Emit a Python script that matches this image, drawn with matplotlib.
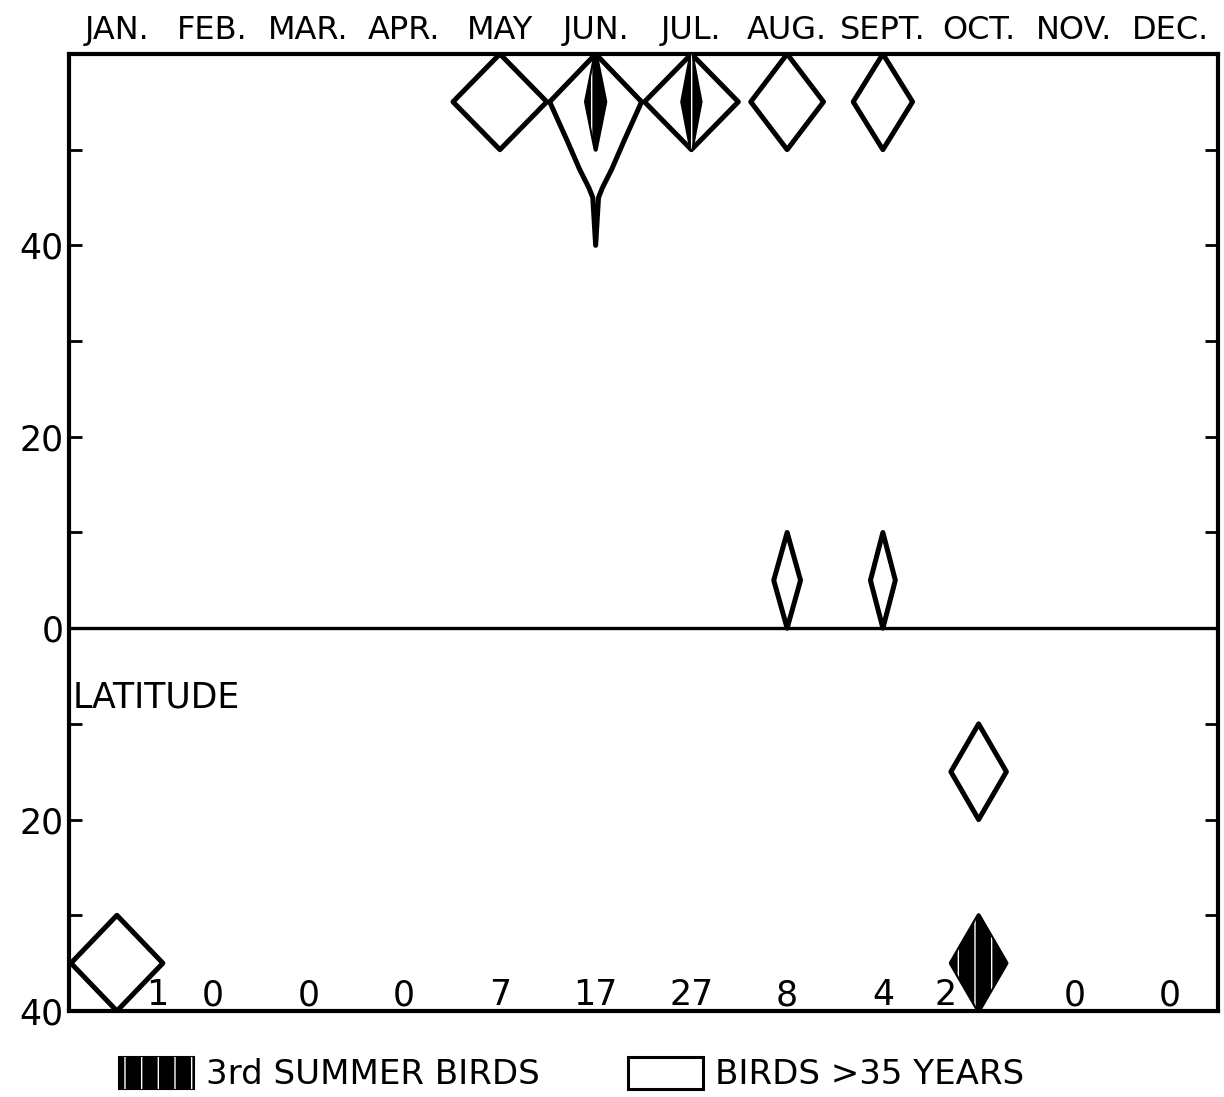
import matplotlib
matplotlib.use("Agg")
import matplotlib.pyplot as plt
from matplotlib.patches import Polygon, Patch
from matplotlib.legend_handler import HandlerTuple

months = ["JAN.", "FEB.", "MAR.", "APR.", "MAY", "JUN.", "JUL.", "AUG.", "SEPT.", "OCT.", "NOV.", "DEC."]
counts = [1, 0, 0, 0, 7, 17, 27, 8, 4, 2, 0, 0]

# open diamonds (birds >35 years): month index, band centre latitude, half width (share of month)
open_month = [0, 4, 6, 7, 7, 8, 8, 9]
open_lat = [-35, 55, 55, 55, 5, 55, 5, -15]
open_share = [0.48, 0.49, 0.49, 0.38, 0.14, 0.31, 0.13, 0.29]

# June has a spread-out shape reaching down to 40 N
jun_month = 5
jun_lat = [60, 55, 51, 48, 46, 45, 40]
jun_share = [0.0, 0.48, 0.30, 0.17, 0.07, 0.03, 0.0]

# hatched diamonds (3rd summer birds)
third_month = [5, 6, 9]
third_lat = [55, 55, -35]
third_share = [0.10, 0.095, 0.29]

band = 5  # half height of a latitude band


def diamond(xc, lat, w):
    return [(xc, lat + band), (xc + w, lat), (xc, lat - band), (xc - w, lat)]


def profile(xc, lats, widths):
    right = [(xc + w, y) for y, w in zip(lats, widths)]
    left = [(xc - w, y) for y, w in zip(lats[::-1], widths[::-1])]
    return right + left


def draw_hatched(ax, pts, lw=3.0):
    ax.add_patch(Polygon(pts, closed=True, facecolor="black", edgecolor="black",
                         linewidth=lw, joinstyle="round", zorder=3))
    ax.add_patch(Polygon(pts, closed=True, facecolor="none", edgecolor="white",
                         hatch="|", linewidth=0, zorder=4))


def main():
    plt.rcParams["font.family"] = ["DejaVu Sans"]
    plt.rcParams["hatch.linewidth"] = 1.0
    fig = plt.figure(figsize=(12.24, 10.97), dpi=100)
    ax = fig.add_axes([0.0564, 0.0784, 0.9387, 0.8724])
    ax.set_xlim(0, 12)
    ax.set_ylim(-40, 60)

    for m, lat, s in zip(open_month, open_lat, open_share):
        ax.add_patch(Polygon(diamond(m + 0.5, lat, s), closed=True, facecolor="none",
                             edgecolor="black", linewidth=3.6, joinstyle="round", zorder=3))

    ax.add_patch(Polygon(profile(jun_month + 0.5, jun_lat, jun_share), closed=True,
                         facecolor="none", edgecolor="black", linewidth=3.6,
                         joinstyle="round", zorder=3))

    for m, lat, s in zip(third_month, third_lat, third_share):
        draw_hatched(ax, diamond(m + 0.5, lat, s))

    # equator
    ax.axhline(0, color="black", linewidth=2.4, zorder=2)

    # number of birds per month along the bottom
    nudge = {0: 0.42, 9: -0.35}
    for m, n in enumerate(counts):
        ax.text(m + 0.5 + nudge.get(m, 0), -39.4, str(n), ha="center", va="baseline",
                fontsize=25, zorder=5)

    ax.text(0.04, -7.2, "LATITUDE", ha="left", va="center", fontsize=25)

    # month names along the top
    ax.xaxis.tick_top()
    ax.set_xticks([m + 0.5 for m in range(12)])
    ax.set_xticklabels(months, fontsize=23)
    ax.tick_params(axis="x", length=0, pad=6)

    ax.set_yticks([-40, -20, 0, 20, 40])
    ax.set_yticklabels([str(abs(v)) for v in [-40, -20, 0, 20, 40]], fontsize=25)
    ax.set_yticks(range(-30, 60, 10), minor=True)
    ax.tick_params(axis="y", which="both", direction="in", left=True, right=True,
                   length=9.5, width=2.0, pad=4)

    for sp in ax.spines.values():
        sp.set_linewidth(3.0)

    black = Patch(facecolor="black", edgecolor="black", linewidth=1.5)
    streaks = Patch(facecolor="none", edgecolor="white", hatch="|", linewidth=0)
    empty = Patch(facecolor="white", edgecolor="black", linewidth=2.2)
    fig.legend([(black, streaks), empty], ["3rd SUMMER BIRDS", "BIRDS >35 YEARS"],
               handler_map={tuple: HandlerTuple(ndivide=1)},
               loc="center", bbox_to_anchor=(0.467, 0.021), ncol=2, frameon=False,
               fontsize=24.5, handlelength=2.2, handleheight=1.1, handletextpad=0.35,
               columnspacing=2.6, borderpad=0.0)

    plt.savefig("out.png", dpi=100)


main()
